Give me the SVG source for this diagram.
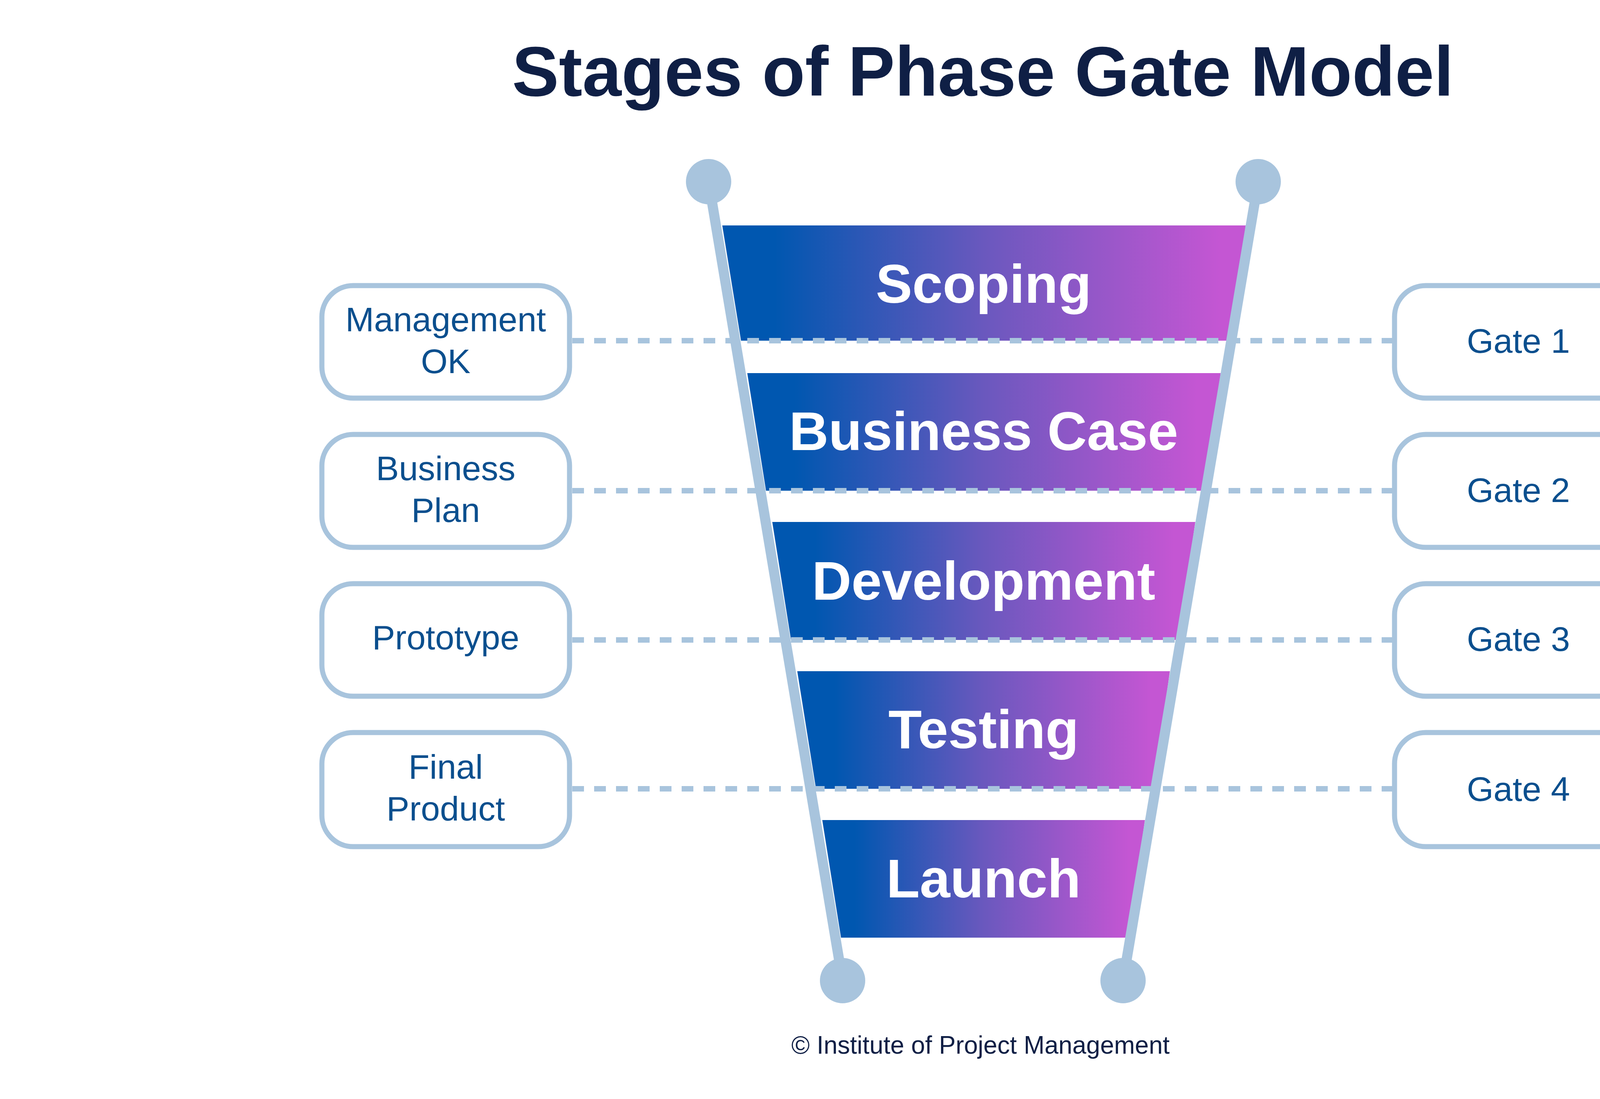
<svg xmlns="http://www.w3.org/2000/svg" width="5000" height="2813" viewBox="0 0 5000 2813">
<style>
.box{fill:#fff;stroke:#a8c4dd;stroke-width:13}
.bt{font-family:"Liberation Sans",Arial,sans-serif;font-size:88px;fill:#0b4f8e;text-anchor:middle}
.st{font-family:"Liberation Sans",Arial,sans-serif;font-size:140px;font-weight:bold;fill:#fff;text-anchor:middle}
.dash{stroke:#a8c4dd;stroke-width:14;stroke-dasharray:30 26;fill:none}
.pole{stroke:#a8c4dd;stroke-width:26;fill:none}
.dot{fill:#a8c4dd}
</style>
<defs>
<linearGradient id="g" x1="0" x2="1" y1="0" y2="0">
<stop offset="0.1" stop-color="#0057b0"/>
<stop offset="0.5" stop-color="#6a58be"/>
<stop offset="0.95" stop-color="#c456d3"/>
</linearGradient>
</defs>
<rect width="5000" height="2813" fill="#fff"/>
<text x="2516" y="245" font-family="Liberation Sans,Arial,sans-serif" font-size="180" font-weight="bold" fill="#0f1f45" text-anchor="middle">Stages of Phase Gate Model</text>
<g id="stages">
<g id="scoping"><polygon points="1849,577 3189,577 3147,872 1897,872" fill="url(#g)"/><text class="st" x="2518" y="775">Scoping</text></g>
<g id="business-case"><polygon points="1913,955 3125,955 3081,1256 1961,1256" fill="url(#g)"/><text class="st" x="2518" y="1152">Business Case</text></g>
<g id="development"><polygon points="1977,1336 3060,1336 3016,1638 2025,1638" fill="url(#g)"/><text class="st" x="2518" y="1535">Development</text></g>
<g id="testing"><polygon points="2041,1718 2995,1718 2952,2019 2089,2019" fill="url(#g)"/><text class="st" x="2518" y="1915">Testing</text></g>
<g id="launch"><polygon points="2105,2099 2931,2099 2888,2400 2153,2400" fill="url(#g)"/><text class="st" x="2518" y="2297">Launch</text></g>
</g>
<g id="connectors">
<line class="dash" x1="1465" y1="872" x2="3565" y2="872"/>
<line class="dash" x1="1465" y1="1256" x2="3565" y2="1256"/>
<line class="dash" x1="1465" y1="1638" x2="3565" y2="1638"/>
<line class="dash" x1="1465" y1="2019" x2="3565" y2="2019"/>
</g>
<g id="funnel">
<line class="pole" x1="1814" y1="465" x2="2157" y2="2510"/>
<line class="pole" x1="3221" y1="465" x2="2875" y2="2510"/>
<circle class="dot" cx="1814" cy="465" r="58"/>
<circle class="dot" cx="3221" cy="465" r="58"/>
<circle class="dot" cx="2157" cy="2510" r="58"/>
<circle class="dot" cx="2875" cy="2510" r="58"/>
</g>
<g id="management-ok"><rect class="box" x="824" y="731" width="634" height="288" rx="80"/><text class="bt" x="1141" y="848">Management</text><text class="bt" x="1141" y="955">OK</text></g>
<g id="business-plan"><rect class="box" x="824" y="1112" width="634" height="289" rx="80"/><text class="bt" x="1141" y="1229">Business</text><text class="bt" x="1141" y="1336">Plan</text></g>
<g id="prototype"><rect class="box" x="824" y="1494" width="634" height="288" rx="80"/><text class="bt" x="1141" y="1662">Prototype</text></g>
<g id="final-product"><rect class="box" x="824" y="1875" width="634" height="292" rx="80"/><text class="bt" x="1141" y="1993">Final</text><text class="bt" x="1141" y="2100">Product</text></g>
<g id="gate1"><rect class="box" x="3570" y="731" width="635" height="288" rx="80"/><text class="bt" x="3887" y="903">Gate 1</text></g>
<g id="gate2"><rect class="box" x="3570" y="1112" width="635" height="289" rx="80"/><text class="bt" x="3887" y="1285">Gate 2</text></g>
<g id="gate3"><rect class="box" x="3570" y="1494" width="635" height="288" rx="80"/><text class="bt" x="3887" y="1666">Gate 3</text></g>
<g id="gate4"><rect class="box" x="3570" y="1875" width="635" height="292" rx="80"/><text class="bt" x="3887" y="2050">Gate 4</text></g>
<text x="2510" y="2697" font-family="Liberation Sans,Arial,sans-serif" font-size="64" fill="#0f1f45" text-anchor="middle">© Institute of Project Management</text>
</svg>
